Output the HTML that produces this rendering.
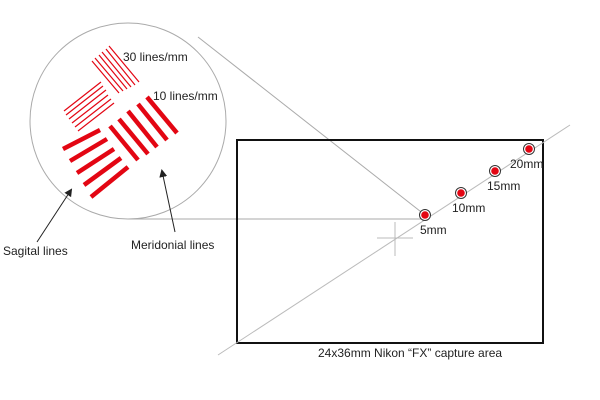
<!DOCTYPE html>
<html><head><style>body{margin:0;background:#fff}svg{display:block}text{font-family:"Liberation Sans",sans-serif;font-size:12px;fill:#222}</style></head>
<body>
<svg width="600" height="400" viewBox="0 0 600 400">
<defs><marker id="a" markerWidth="8" markerHeight="8" refX="6" refY="4" orient="auto" markerUnits="userSpaceOnUse"><path d="M0,0 L8,4 L0,8 Z" fill="#222"/></marker></defs>
<circle cx="128" cy="121" r="98" fill="none" stroke="#aaa" stroke-width="1"/>
<line x1="198" y1="37" x2="425" y2="215" stroke="#aaa"/>
<line x1="128" y1="219" x2="425" y2="219" stroke="#aaa"/>
<rect x="237" y="140" width="306" height="203" fill="none" stroke="#111" stroke-width="2"/>
<line x1="218" y1="355" x2="570" y2="125" stroke="#bbb"/>
<line x1="377" y1="238" x2="413" y2="238" stroke="#bbb"/>
<line x1="395" y1="222" x2="395" y2="256" stroke="#bbb"/>
<g stroke="#e30613" stroke-width="1.2">
<line x1="92" y1="61" x2="119" y2="93"/><line x1="95" y1="58" x2="123" y2="91"/><line x1="99" y1="55" x2="127" y2="89"/><line x1="102" y1="52" x2="131" y2="87"/><line x1="106" y1="49" x2="135" y2="85"/><line x1="109" y1="46" x2="139" y2="82"/>
<line x1="64" y1="111" x2="101" y2="82"/><line x1="66" y1="115" x2="103" y2="86"/><line x1="69" y1="119" x2="106" y2="90"/><line x1="72" y1="123" x2="108" y2="95"/><line x1="75" y1="127" x2="111" y2="99"/><line x1="78" y1="131" x2="114" y2="103"/>
</g>
<g stroke="#e30613" stroke-width="4.5" stroke-linecap="butt">
<line x1="63" y1="149" x2="100" y2="130"/><line x1="70" y1="161" x2="107" y2="139"/><line x1="77" y1="173" x2="114" y2="149"/><line x1="84" y1="185" x2="121" y2="158"/><line x1="91" y1="197" x2="128" y2="167"/>
<line x1="110" y1="126" x2="138" y2="160"/><line x1="119" y1="119" x2="148" y2="154"/><line x1="128" y1="111" x2="157" y2="147"/><line x1="138" y1="104" x2="167" y2="140"/><line x1="147" y1="97" x2="177" y2="133"/>
</g>
<text x="123" y="61">30 lines/mm</text>
<text x="153" y="100">10 lines/mm</text>
<line x1="37" y1="242" x2="71" y2="190" stroke="#222" marker-end="url(#a)"/>
<line x1="175" y1="232" x2="162" y2="171" stroke="#222" marker-end="url(#a)"/>
<text x="3" y="255">Sagital lines</text>
<text x="131" y="249">Meridonial lines</text>
<g stroke="#333" stroke-width="1" fill="#fff">
<circle cx="425" cy="215" r="5.5"/><circle cx="461" cy="193" r="5.5"/><circle cx="495" cy="171" r="5.5"/><circle cx="529" cy="149" r="5.5"/>
</g>
<g fill="#e30613">
<circle cx="425" cy="215" r="3.8"/><circle cx="461" cy="193" r="3.8"/><circle cx="495" cy="171" r="3.8"/><circle cx="529" cy="149" r="3.8"/>
</g>
<text x="420" y="234">5mm</text>
<text x="452" y="212">10mm</text>
<text x="487" y="190">15mm</text>
<text x="510" y="168">20mm</text>
<text x="318" y="357">24x36mm Nikon “FX” capture area</text>
</svg>
</body></html>
